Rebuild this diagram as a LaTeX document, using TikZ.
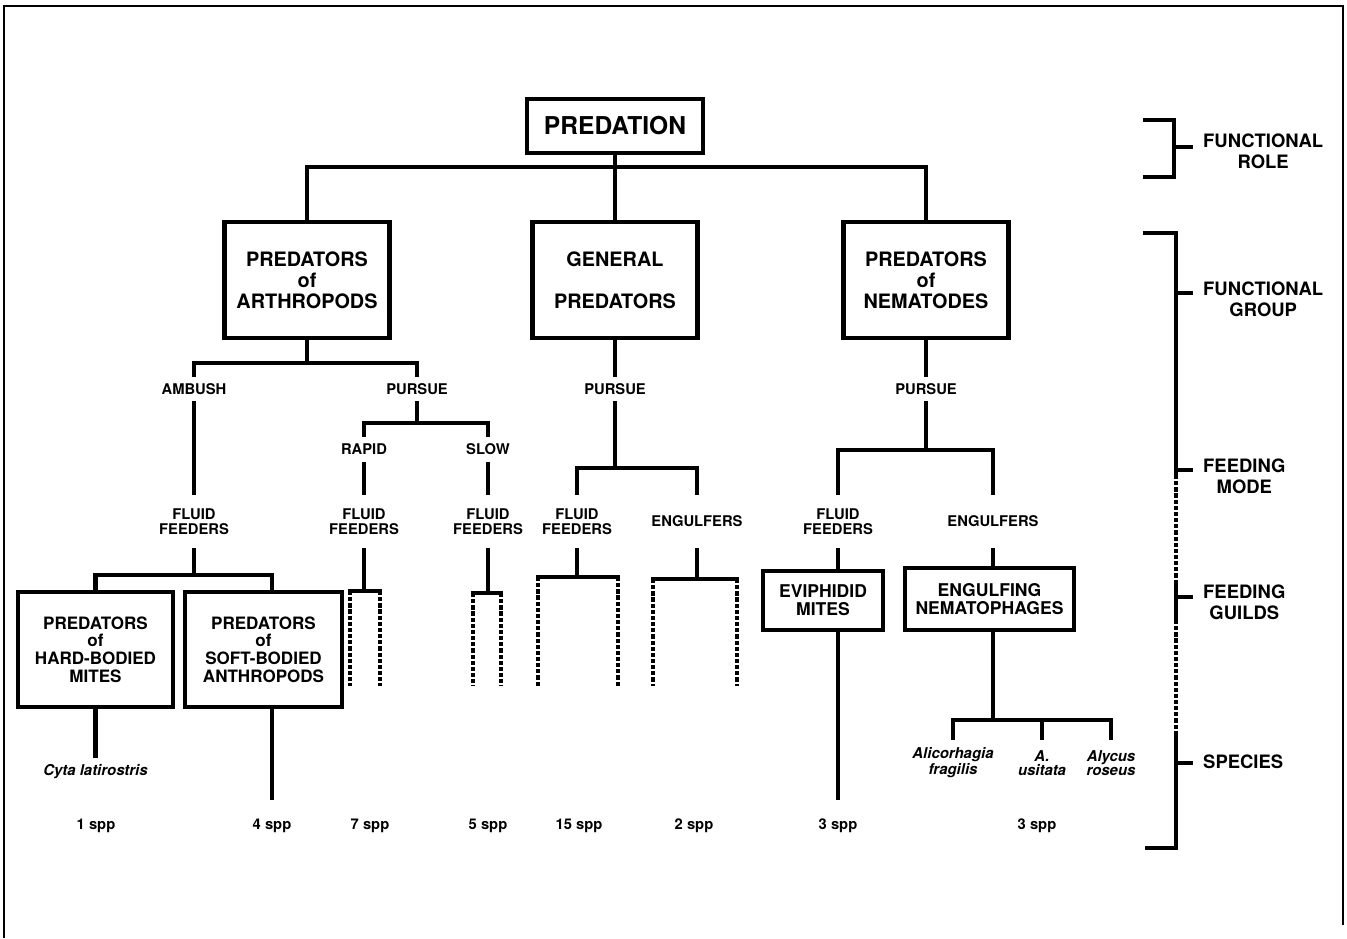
\documentclass[tikz,border=0pt]{standalone}
\usepackage{fontspec}
\setmainfont{TeX Gyre Heros}

\tikzset{
  link/.style={line width=2.3pt},
  dotlink/.style={line width=2.3pt, dash pattern=on 2.4pt off 1.1pt},
  barlink/.style={line width=2.3pt, line cap=rect},
  topbox/.style={draw, line width=2.6pt, inner sep=0pt, minimum width=3.52cm, minimum height=1.08cm, font=\fontsize{14}{16}\selectfont\bfseries},
  groupbox/.style={draw, line width=2.6pt, inner sep=0pt, align=center, minimum width=3.3cm, minimum height=2.32cm, font=\fontsize{11.3}{12}\selectfont\bfseries},
  guildbox/.style={draw, line width=2.6pt, inner sep=0pt, align=center, font=\fontsize{9.7}{10}\selectfont\bfseries},
  modelbl/.style={inner sep=0pt, align=center, minimum height=0.48cm, font=\fontsize{8.4}{8.5}\selectfont\bfseries},
  feedlbl/.style={inner sep=0pt, align=center, minimum height=1.06cm, font=\fontsize{8.4}{8.6}\selectfont\bfseries},
  speclbl/.style={inner sep=0pt, align=center, font=\fontsize{8.5}{7.6}\selectfont\bfseries\itshape},
  spplbl/.style={inner sep=0pt, minimum height=1.04cm, font=\fontsize{8.4}{9}\selectfont\bfseries},
  scalelbl/.style={anchor=west, align=center, font=\fontsize{10.5}{12}\selectfont\bfseries},
  scaleline/.style={line width=2.3pt}
}

\begin{document}
\begin{tikzpicture}[x=0.02cm, y=-0.02cm]
\useasboundingbox (0,0) rectangle (1347,938);
\draw[line width=1.5pt] (4,938) -- (4,6) -- (1343,6) -- (1343,925);

% functional role and functional groups
\node[topbox] (pred) at (615,126) {PREDATION};
\node[groupbox] (arth) at (307,280) {PREDATORS\\of\\ARTHROPODS};
\node[groupbox] (gen) at (615,280) {GENERAL\\[12pt]PREDATORS};
\node[groupbox] (nem) at (926,280) {PREDATORS\\of\\NEMATODES};
\coordinate (jtop) at (615,167);
\draw[link] (pred) -- (gen);
\draw[link] (arth.north) |- (jtop) -| (nem.north);

% species counts
\node[spplbl] (spp1) at (96,826) {1 spp};
\node[spplbl] (spp4) at (272,826) {4 spp};
\node[spplbl] (spp7) at (370,826) {7 spp};
\node[spplbl] (spp5) at (488,826) {5 spp};
\node[spplbl] (spp15) at (579,826) {15 spp};
\node[spplbl] (spp2) at (694,826) {2 spp};
\node[spplbl] (sppevi) at (838,826) {3 spp};
\node[spplbl] (sppeng) at (1037,826) {3 spp};

% predators of arthropods
\node[modelbl] (amb) at (194,389) {AMBUSH};
\node[modelbl] (apur) at (417,389) {PURSUE};
\coordinate (jarth) at (307,363);
\draw[link] (arth) -- (jarth);
\draw[link] (amb.north) |- (jarth) -| (apur.north);
\node[modelbl] (rapid) at (364,449.5) {RAPID};
\node[modelbl] (slow) at (488,449.5) {SLOW};
\coordinate (jpur) at (417,423);
\draw[link] (apur) -- (jpur);
\draw[link] (rapid.north) |- (jpur) -| (slow.north);
\node[feedlbl] (ffamb) at (194,521.5) {FLUID\\FEEDERS};
\node[feedlbl] (ffrap) at (364,521.5) {FLUID\\FEEDERS};
\node[feedlbl] (ffslo) at (488,521.5) {FLUID\\FEEDERS};
\draw[link] (amb) -- (ffamb);
\draw[link] (rapid) -- (ffrap);
\draw[link] (slow) -- (ffslo);

\node[guildbox, minimum width=3.1cm, minimum height=2.3cm] (hard) at (95.5,649.5) {PREDATORS\\of\\HARD-BODIED\\MITES};
\node[guildbox, minimum width=3.14cm, minimum height=2.3cm] (soft) at (263.5,649.5) {PREDATORS\\of\\SOFT-BODIED\\ANTHROPODS};
\coordinate (jamb) at (194,575);
\draw[link] (ffamb) -- (jamb);
\draw[link] (hard.north) |- (jamb) -| (soft.north -| spp4);
\node[speclbl, minimum height=0.56cm] (cyta) at (95.5,772) {Cyta latirostris};
\draw[link] (hard) -- (cyta);
\draw[link] (soft.south -| spp4) -- (spp4.north);

\coordinate (rapL) at (350,591);
\coordinate (rapR) at (380,591);
\draw[link] (ffrap) -- (ffrap |- rapL);
\draw[barlink] (rapL) -- (rapR);
\draw[dotlink] (rapL) -- ++(0,95);
\draw[dotlink] (rapR) -- ++(0,95);

\coordinate (sloL) at (473,593);
\coordinate (sloR) at (501,593);
\draw[link] (ffslo) -- (ffslo |- sloL);
\draw[barlink] (sloL) -- (sloR);
\draw[dotlink] (sloL) -- ++(0,93);
\draw[dotlink] (sloR) -- ++(0,93);

% general predators
\node[modelbl] (gpur) at (615,389) {PURSUE};
\draw[link] (gen) -- (gpur);
\coordinate (jgen) at (615,468);
\draw[link] (gpur) -- (jgen);
\node[feedlbl] (gff) at (577,521.5) {FLUID\\FEEDERS};
\node[feedlbl] (geng) at (697,521.5) {ENGULFERS};
\draw[link] (gff.north) |- (jgen) -| (geng.north);

\coordinate (gffL) at (538,577);
\coordinate (gffR) at (618,577);
\draw[link] (gff) -- (gff |- gffL);
\draw[barlink] (gffL) -- (gffR);
\draw[dotlink] (gffL) -- ++(0,109);
\draw[dotlink] (gffR) -- ++(0,109);

\coordinate (gengL) at (653,579);
\coordinate (gengR) at (737,579);
\draw[link] (geng) -- (geng |- gengL);
\draw[barlink] (gengL) -- (gengR);
\draw[dotlink] (gengL) -- ++(0,107);
\draw[dotlink] (gengR) -- ++(0,107);

% predators of nematodes
\node[modelbl] (npur) at (926,389) {PURSUE};
\draw[link] (nem) -- (npur);
\coordinate (jnem) at (926,450);
\draw[link] (npur) -- (jnem);
\node[feedlbl] (nff) at (838,521.5) {FLUID\\FEEDERS};
\node[feedlbl] (neng) at (993,521.5) {ENGULFERS};
\draw[link] (nff.north) |- (jnem) -| (neng.north);

\node[guildbox, minimum width=2.4cm, minimum height=1.18cm, font=\fontsize{10}{10.2}\selectfont\bfseries] (evi) at (823,600.5) {EVIPHIDID\\MITES};
\node[guildbox, minimum width=3.38cm, minimum height=1.24cm, font=\fontsize{10}{10.2}\selectfont\bfseries] (engn) at (989.5,599) {ENGULFING\\NEMATOPHAGES};
\draw[link] (nff) -- (evi.north -| nff);
\draw[link] (evi.south -| nff) -- (sppevi.north);
\draw[link] (neng) -- (engn.north -| neng);

\node[speclbl, minimum height=0.92cm] (ali) at (953,763) {Alicorhagia\\fragilis};
\node[speclbl, minimum height=0.92cm] (usi) at (1042,763) {A.\\usitata};
\node[speclbl, minimum height=0.92cm] (aly) at (1111,763) {Alycus\\roseus};
\coordinate (jeng) at (993,720);
\draw[link] (engn.south -| neng) -- (jeng);
\draw[link] (ali.north) |- (jeng) -| (aly.north);
\draw[link] (usi.north |- jeng) -- (usi.north);

% hierarchy levels
\draw[scaleline] (1143,120) -- (1174,120) -- (1174,177) -- (1143,177);
\draw[scaleline] (1174,147) -- (1193,147);
\node[scalelbl] (lrole) at (1197,151) {FUNCTIONAL\\ROLE};

\draw[scaleline] (1143,233) -- (1176,233) -- (1176,475);
\draw[dotlink] (1176,475) -- (1176,582);
\draw[scaleline] (1176,582) -- (1176,620);
\draw[dotlink] (1176,620) -- (1176,735);
\draw[scaleline] (1176,735) -- (1176,848) -- (1145,848);
\draw[scaleline] (1176,293) -- (1193,293);
\draw[scaleline] (1176,470) -- (1193,470);
\draw[scaleline] (1176,597) -- (1193,597);
\draw[scaleline] (1176,763) -- (1193,763);
\node[scalelbl] (lgroup) at (1197,299) {FUNCTIONAL\\GROUP};
\node[scalelbl] (lmode) at (1197,476) {FEEDING\\MODE};
\node[scalelbl] (lguild) at (1197,602) {FEEDING\\GUILDS};
\node[scalelbl] (lspec) at (1197,762) {SPECIES};

\end{tikzpicture}
\end{document}
